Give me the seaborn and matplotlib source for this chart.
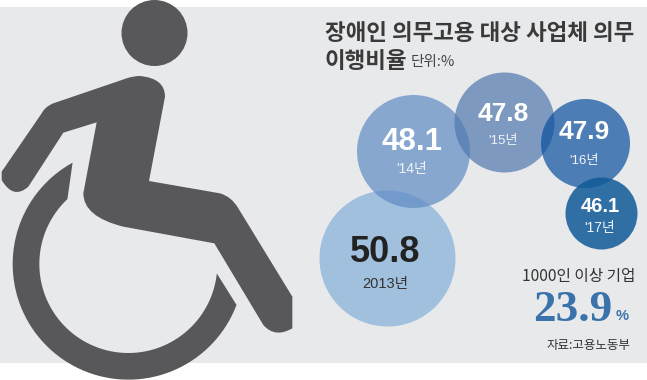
import matplotlib
matplotlib.use('Agg')
import matplotlib.pyplot as plt
import seaborn as sns
import numpy as np
import pandas as pd
from matplotlib.patches import Circle, PathPatch, Rectangle
from matplotlib.path import Path

# data
years = ['2013년', "'14년", "'15년", "'16년", "'17년"]
rates = [50.8, 48.1, 47.8, 47.9, 46.1]
big_firm_label = '1000인 이상 기업'
big_firm_rate = 23.9

# layout of the bubbles, in pixels
bubble_x = [386.5, 413, 504, 585, 601]
bubble_y = [257.5, 151, 122, 143, 213]
bubble_r = [68, 56.5, 50, 44.5, 36]
bubble_col = ['#82afd9', '#5f8cc4', '#5077ad', '#0a4f9e', '#0f5a98']
bubble_alpha = [0.7, 0.7, 0.7, 0.7, 0.85]
value_size = [26, 22.5, 19, 19, 14.5]
year_size = [10.5, 10, 9.5, 9.5, 10]
value_y = [253, 142, 114, 132, 206]
year_y = [284, 169, 141, 161, 228]
text_col = ['#222222', 'white', 'white', 'white', 'white']
year_col = ['#333333', '#f0f3f8', '#f0f3f8', '#f0f3f8', '#f0f3f8']

BG = '#e8e9eb'
ICON = '#58585a'
KR = ['Noto Sans CJK KR', 'DejaVu Sans']
NUM = ['Liberation Sans', 'Noto Sans CJK KR']

sns.set_theme(style='white')
plt.rcParams['font.family'] = KR

fig = plt.figure(figsize=(6.47, 3.8), dpi=100)
ax = fig.add_axes([0, 0, 1, 1])
ax.set_xlim(0, 647)
ax.set_ylim(380, 0)
ax.axis('off')
ax.add_patch(Rectangle((0, 7), 647, 356, color=BG, lw=0, zorder=0))

# icon, outline traced in 3x crop coordinates
ax.add_patch(Circle((154.5, 33), 33, color=ICON, lw=0, zorder=1))
M, L, C = Path.MOVETO, Path.LINETO, Path.CURVE3
body = [
    (M, (420, 228)), (C, (495, 235)), (C, (495, 290)), (L, (447, 543)),
    (L, (660, 580)), (C, (695, 590)), (C, (715, 625)), (L, (877, 890)),
    (L, (877, 985)), (C, (825, 1015)), (C, (790, 975)), (L, (643, 730)),
    (L, (370, 680)), (C, (250, 650)), (C, (250, 580)), (L, (290, 367)),
    (L, (190, 398)), (L, (85, 560)), (C, (40, 600)), (C, (5, 540)),
    (L, (5, 515)), (L, (125, 340)), (C, (135, 320)), (C, (160, 310)),
    (L, (380, 235)), (C, (400, 228)), (C, (420, 228)),
]
codes = [b[0] for b in body]
verts = np.array([b[1] for b in body], dtype=float) / 3
ax.add_patch(PathPatch(Path(verts, codes), fc=ICON, lw=0, zorder=1))

cx, cy, r_out, r_in = 385, 792, 347, 267
a_out = np.radians(np.linspace(241.2, 20.7, 80))
a_in = np.radians(np.linspace(6.1, 226.8, 80))
wheel = np.vstack([
    np.column_stack([cx + r_out * np.cos(a_out), cy + r_out * np.sin(a_out)]),
    np.column_stack([cx + r_in * np.cos(a_in), cy + r_in * np.sin(a_in)]),
]) / 3
ax.fill(wheel[:, 0], wheel[:, 1], color=ICON, lw=0, zorder=1, clip_on=False)

# bubbles
df = pd.DataFrame({'year': years, 'rate': rates, 'x': bubble_x, 'y': bubble_y, 'r': bubble_r})
for i, row in df.iterrows():
    d_pt = 2 * row['r'] * 72 / fig.dpi
    sns.scatterplot(x=[row['x']], y=[row['y']], s=d_pt ** 2, color=bubble_col[i],
                    alpha=bubble_alpha[i], linewidth=0, ax=ax, zorder=2 + i, legend=False)
    ax.text(row['x'] - 1, value_y[i], f"{row['rate']:.1f}", ha='center', va='center',
            fontsize=value_size[i], fontweight='bold', color=text_col[i], family=NUM, zorder=10)
    ax.text(row['x'] - 1, year_y[i], row['year'], ha='center', va='center',
            fontsize=year_size[i], color=year_col[i], family=NUM, zorder=10)

# title
ax.text(325, 34, '장애인 의무고용 대상 사업체 의무', ha='left', va='center', fontsize=16.2,
        color='#3a3a3a', fontweight='bold', zorder=10)
ax.text(325, 61, '이행비율', ha='left', va='center', fontsize=16.2, color='#3a3a3a',
        fontweight='bold', zorder=10)
ax.text(411, 62, '단위:%', ha='left', va='center', fontsize=10.5, color='#444444', zorder=10)

# big firm note
ax.text(635, 276, big_firm_label, ha='right', va='center', fontsize=11.3, color='#333333', zorder=10)
ax.text(533, 310, f'{big_firm_rate}', ha='left', va='center', fontsize=32.5, fontweight='bold',
        color='#3a73ab', family=['Liberation Serif'], zorder=10)
ax.text(616, 316, '%', ha='left', va='center', fontsize=10.5, fontweight='bold',
        color='#3a73ab', family=NUM, zorder=10)
ax.text(630, 345, '자료:고용노동부', ha='right', va='center', fontsize=9, color='#333333', zorder=10)

fig.savefig('out.png', dpi=100)
